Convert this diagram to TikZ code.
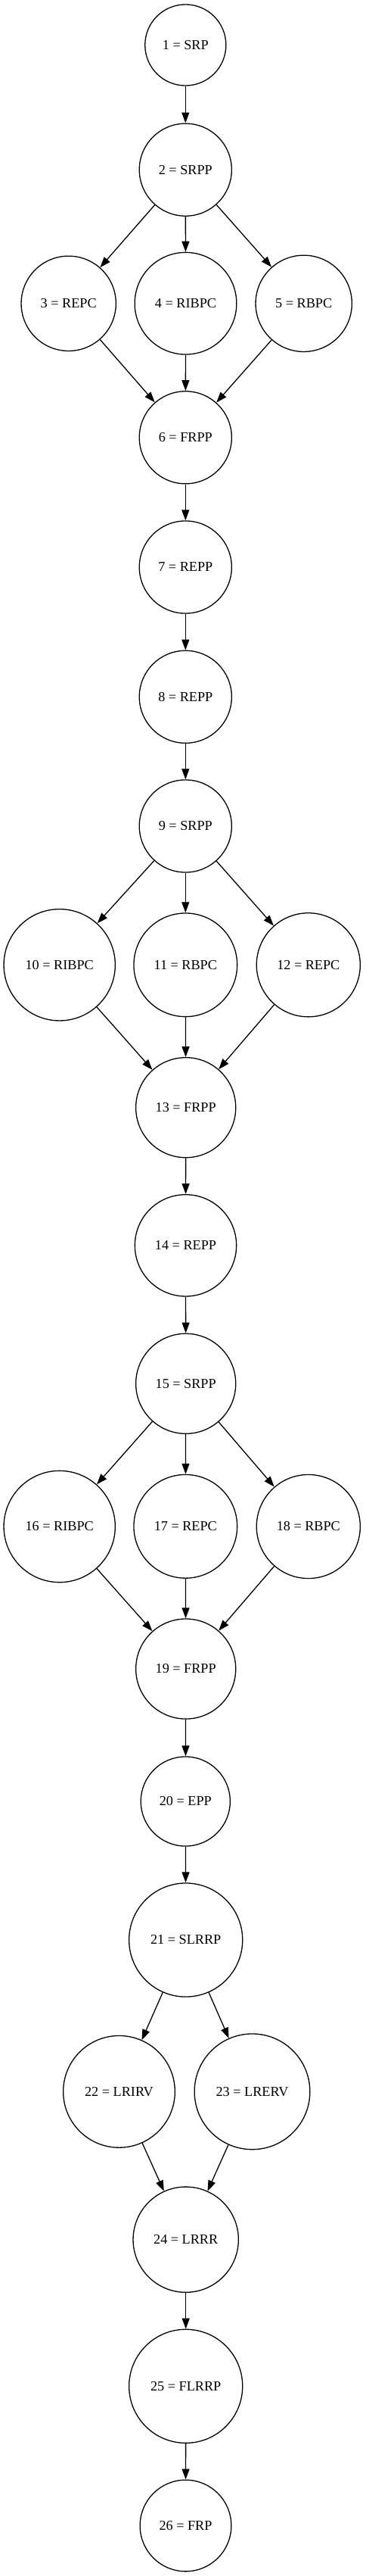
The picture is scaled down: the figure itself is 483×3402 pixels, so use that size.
\documentclass[tikz,border=0pt]{standalone}
\usepackage{fontspec}
\setmainfont{Liberation Serif}
\usetikzlibrary{arrows.meta}
\begin{document}
\begin{tikzpicture}[x=1pt,y=-1pt,
  nd/.style={circle,draw=black,line width=1.3pt,inner sep=0pt,
    font=\fontsize{18.2}{22}\selectfont},
  edge/.style={line width=1.3pt,-{Triangle[length=14pt,width=10pt]}}]
\useasboundingbox (0,0) rectangle (483,3402);
\newcommand{\nd}[5]{\node[nd,minimum size=#4*2-1.3] (#1) at (#2,#3) {#5};}
\nd{n1}{245.3}{59.5}{54.2}{1 = SRP}
\nd{n2}{245.3}{224.2}{61.7}{2 = SRPP}
\nd{n3}{90.7}{400.8}{63.3}{3 = REPC}
\nd{n4}{245.5}{400.7}{68}{4 = RIBPC}
\nd{n5}{401.7}{400.8}{64.3}{5 = RBPC}
\nd{n6}{245.3}{577.8}{61.7}{6 = FRPP}
\nd{n7}{245.3}{749}{61.7}{7 = REPP}
\nd{n8}{245.3}{920.3}{61.7}{8 = REPP}
\nd{n9}{245.3}{1091}{61.7}{9 = SRPP}
\nd{n10}{78.7}{1274.3}{74.3}{10 = RIBPC}
\nd{n11}{245.3}{1274.3}{69}{11 = RBPC}
\nd{n12}{407.8}{1274.3}{69.2}{12 = REPC}
\nd{n13}{245.7}{1462.7}{66.7}{13 = FRPP}
\nd{n14}{245.5}{1644.8}{67.8}{14 = REPP}
\nd{n15}{245.7}{1827.3}{66.7}{15 = SRPP}
\nd{n16}{78.7}{2016}{74.3}{16 = RIBPC}
\nd{n17}{245.3}{2015.8}{69}{17 = REPC}
\nd{n18}{407.8}{2016}{69.2}{18 = RBPC}
\nd{n19}{245.7}{2204}{66.7}{19 = FRPP}
\nd{n20}{245.3}{2379}{59.7}{20 = EPP}
\nd{n21}{245.7}{2562}{75.7}{21 = SLRRP}
\nd{n22}{157.5}{2762.3}{74.5}{22 = LRIRV}
\nd{n23}{333.5}{2762.3}{77}{23 = LRERV}
\nd{n24}{245.7}{2957.7}{70.3}{24 = LRRR}
\nd{n25}{245.7}{3151.3}{75.7}{25 = FLRRP}
\nd{n26}{245.5}{3335.5}{61}{26 = FRP}
\foreach \a/\b in {n1/n2,n2/n3,n2/n4,n2/n5,n3/n6,n4/n6,n5/n6,n6/n7,n7/n8,n8/n9,
  n9/n10,n9/n11,n9/n12,n10/n13,n11/n13,n12/n13,n13/n14,n14/n15,
  n15/n16,n15/n17,n15/n18,n16/n19,n17/n19,n18/n19,n19/n20,n20/n21,
  n21/n22,n21/n23,n22/n24,n23/n24,n24/n25,n25/n26}
  \draw[edge] (\a) -- (\b);
\end{tikzpicture}
\end{document}
